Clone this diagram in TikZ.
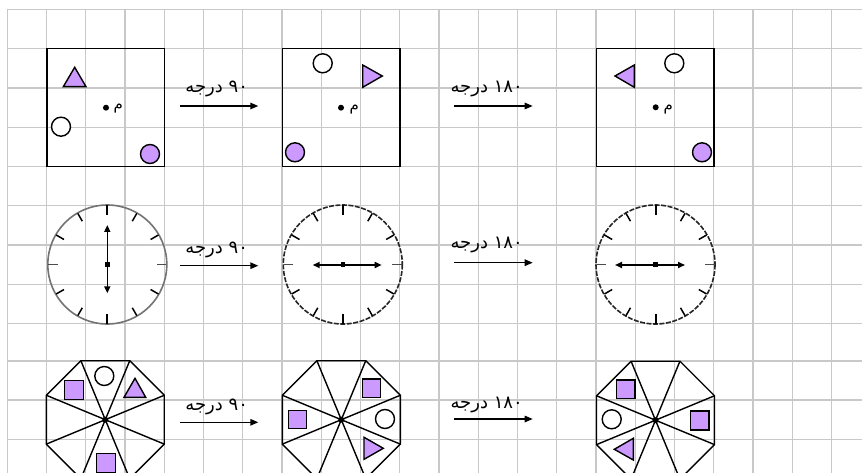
\documentclass[tikz,border=0pt]{standalone}
\usepackage{fontspec}
\TeXXeTstate=1
\newfontfamily\arabicfont[Script=Arabic]{DejaVu Sans}
\usetikzlibrary{arrows.meta,calc}
\definecolor{lil}{RGB}{204,153,255}
\definecolor{gridc}{RGB}{200,200,200}
\begin{document}
\begin{tikzpicture}[x=1pt,y=-1pt,
  gridline/.style={gridc,line width=1.2pt},
  figline/.style={black,line width=1.4pt},
  lilac/.style={figline,fill=lil},
  hollow/.style={figline,fill=white},
  rot/.style={-{Triangle[length=8pt,width=6.5pt]},line width=1.4pt},
  hand/.style={{Triangle[length=7pt,width=6pt]}-{Triangle[length=7pt,width=6pt]},line width=1.6pt},
  lbl/.style={font=\arabicfont\fontsize{18}{20}\selectfont,inner sep=0pt},
  mlbl/.style={font=\arabicfont\fontsize{15}{17}\selectfont,inner sep=0pt},
  clockA/.style={black!55,line width=1.6pt},
  clockB/.style={black!85,line width=1.6pt,dash pattern=on 5pt off 1.5pt},
  tickthin/.style={black!70,line width=1pt},
  tickbold/.style={black,line width=2pt},
  tickmid/.style={black,line width=1.5pt},
  octline/.style={black,line width=1.4pt,line join=miter},
]
\useasboundingbox (0,0) rectangle (862,473);
\fill[white] (0,0) rectangle (862,473);
% grid
\foreach \k in {0,...,21} \draw[gridline] (7.3+39.25*\k,9.3) -- (7.3+39.25*\k,473);
\foreach \y in {9.3,48.7,88,127.3,166.7,205.7,245,284.3,323.3,361,400,439.3}
  \draw[gridline] (6.6,\y) -- (862,\y);

% ---------- row 1: squares ----------
\node[draw,figline,minimum width=117.6pt,minimum height=117.6pt,inner sep=0pt] (s1) at (105.7,107.6) {};
\node[draw,figline,minimum width=117.6pt,minimum height=117.6pt,inner sep=0pt] (s2) at (341.2,107.6) {};
\node[draw,figline,minimum width=117.6pt,minimum height=117.6pt,inner sep=0pt] (s3) at (655.2,107.6) {};

\draw[lilac] (63.3,86.7) -- (86,86.7) -- (74.7,67.3) -- cycle;
\draw[hollow] (61,126.7) circle (9.5);
\draw[lilac] (150,154) circle (9.5);
\fill (106,107.7) circle (3);
\node[mlbl] (m1) at (118.3,109) {م};

\draw[hollow] (322.7,63.3) circle (9.5);
\draw[lilac] (362.7,65) -- (362.7,87.3) -- (382.3,76) -- cycle;
\fill (341,107.7) circle (3);
\node[mlbl] (m2) at (354.3,110) {م};
\draw[lilac] (295,152.3) circle (9.5);

\draw[lilac] (615,76) -- (634.3,65) -- (634.3,87.3) -- cycle;
\draw[hollow] (674.3,63.3) circle (9.5);
\fill (655.7,107.3) circle (3);
\node[mlbl] (m3) at (668.3,110) {م};
\draw[lilac] (702,152.3) circle (9.5);

\coordinate (a1s) at (180,106);   \coordinate (a1e) at (258.3,106);
\coordinate (a2s) at (454.3,106); \coordinate (a2e) at (532.7,106);
\draw[rot] (a1s) -- (a1e);
\draw[rot] (a2s) -- (a2e);
\node[lbl] (t1) at (216.7,89.3) {\beginR ۹۰ درجه\endR};
\node[lbl] (t2) at (486.7,89.3) {\beginR ۱۸۰ درجه\endR};

% ---------- row 2: clocks ----------
\coordinate (k1) at (107.3,264.5);
\coordinate (k2) at (342.8,264.5);
\coordinate (k3) at (655.5,264.5);
\draw[clockA] (k1) circle (59.5);
\draw[clockB] (k2) circle (59.5);
\draw[clockB] (k3) circle (59.5);
\foreach \c in {k1,k2,k3}{
  \foreach \a in {30,60,120,150,210,240,300,330}
    \draw[tickmid] ($(\c)+(\a:50)$) -- ($(\c)+(\a:59)$);
  \foreach \a in {90,270}
    \draw[tickbold] ($(\c)+(\a:49.5)$) -- ($(\c)+(\a:59)$);
  \foreach \a in {0,180}
    \draw[tickthin] ($(\c)+(\a:49.5)$) -- ($(\c)+(\a:59)$);
  \fill ($(\c)+(-2.2,-2.2)$) rectangle ($(\c)+(2.2,2.2)$);
}
\coordinate (h1a) at (107.3,225);   \coordinate (h1b) at (107.3,293.3);
\coordinate (h2a) at (312.7,265);   \coordinate (h2b) at (381.7,265);
\coordinate (h3a) at (615,265);     \coordinate (h3b) at (685,265);
\draw[hand] (h1a) -- (h1b);
\draw[hand] (h2a) -- (h2b);
\draw[hand] (h3a) -- (h3b);

\coordinate (b1s) at (180,265.7);   \coordinate (b1e) at (258.3,265.7);
\coordinate (b2s) at (454.3,262.7); \coordinate (b2e) at (532.7,262.7);
\draw[rot] (b1s) -- (b1e);
\draw[rot] (b2s) -- (b2e);
\node[lbl] (t3) at (216.7,250) {\beginR ۹۰ درجه\endR};
\node[lbl] (t4) at (486.7,245) {\beginR ۱۸۰ درجه\endR};

% ---------- row 3: octagons ----------
\coordinate (o1) at (105.3,419.7);
\coordinate (o2) at (341.3,419.7);
\coordinate (o3) at (655.5,420.2);
\foreach \o in {o1,o2,o3}{
  \foreach \k in {0,...,7}
    \coordinate (\o v\k) at ($(\o)+(22.5+45*\k:63.86)$);
  \draw[octline] (\o v0) -- (\o v1) -- (\o v2) -- (\o v3) -- (\o v4) -- (\o v5) -- (\o v6) -- (\o v7) -- cycle;
  \foreach \k in {0,...,7}
    \draw[octline] (\o) -- (\o v\k);
  \fill (\o) circle (3);
}
% octagon 1 contents
\draw[lilac] (64.3,380.7) rectangle (83.3,399.3);
\draw[hollow] (104.3,376) circle (9.5);
\draw[lilac] (124,397.3) -- (145.7,397.3) -- (135,378.3) -- cycle;
\draw[lilac] (96.7,453.7) rectangle (115.7,472.3);
% octagon 2 contents
\draw[lilac] (362.3,379) rectangle (380.7,397.3);
\draw[lilac] (288.3,410.7) rectangle (306.7,428.3);
\draw[hollow] (385,419) circle (9.5);
\draw[lilac] (364,437.3) -- (364,459.3) -- (383.3,448.3) -- cycle;
% octagon 3 contents
\draw[lilac] (616.7,380) rectangle (635,398.3);
\draw[hollow] (611.7,419.3) circle (9.5);
\draw[lilac] (690.7,411) rectangle (709,430);
\draw[lilac] (614.3,449.3) -- (633.3,438.3) -- (633.3,460) -- cycle;

\coordinate (c1s) at (180,422.3);   \coordinate (c1e) at (258.3,422.3);
\coordinate (c2s) at (454.3,419);   \coordinate (c2e) at (532.7,419);
\draw[rot] (c1s) -- (c1e);
\draw[rot] (c2s) -- (c2e);
\node[lbl] (t5) at (216.7,407.3) {\beginR ۹۰ درجه\endR};
\node[lbl] (t6) at (486.7,405) {\beginR ۱۸۰ درجه\endR};
\end{tikzpicture}
\end{document}
